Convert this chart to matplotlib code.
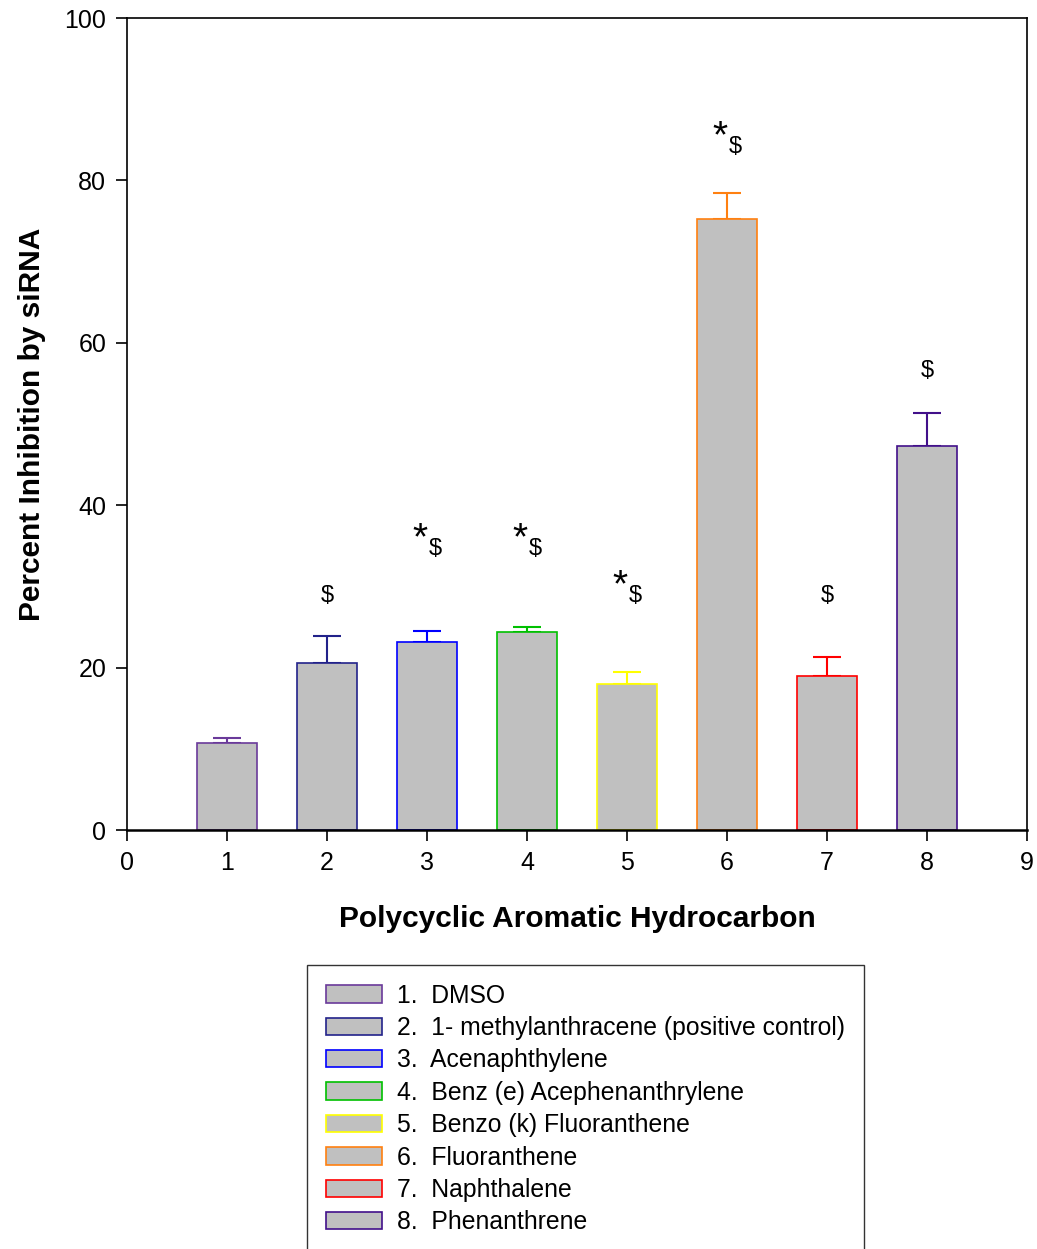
import matplotlib
matplotlib.use("Agg")
import matplotlib.pyplot as plt
from matplotlib.patches import Patch

plt.rcParams['font.family'] = ['Liberation Sans', 'DejaVu Sans']

positions = [1, 2, 3, 4, 5, 6, 7, 8]
values = [10.7, 20.6, 23.2, 24.4, 18.0, 75.2, 19.0, 47.3]
errors = [0.6, 3.3, 1.3, 0.6, 1.5, 3.2, 2.3, 4.1]
edge_colors = ['#6a3a9a', '#22228a', '#0000ff', '#00c000', '#ffff00', '#ff8010', '#ff0000', '#42108a']
names = ['DMSO', '1- methylanthracene (positive control)', 'Acenaphthylene',
         'Benz (e) Acephenanthrylene', 'Benzo (k) Fluoranthene', 'Fluoranthene',
         'Naphthalene', 'Phenanthrene']
# significance marks: star / dollar, and height of the $
stars = [False, False, True, True, True, True, False, False]
dollars = [False, True, True, True, True, True, True, True]
mark_y = [0, 28.8, 34.6, 34.6, 28.8, 84.1, 28.8, 56.5]

fig = plt.figure(figsize=(10.37, 12.49), dpi=100)
ax = fig.add_axes([127/1037, 1-830/1249, 900/1037, 812/1249])

for x, v, e, c in zip(positions, values, errors, edge_colors):
    ax.bar(x, v, width=0.6, color='#c0c0c0', edgecolor=c, linewidth=1.2, zorder=2)
    ax.errorbar(x, v, yerr=[[0], [e]], color=c, capsize=10, elinewidth=1.5,
                capthick=1.5, fmt='none', zorder=1)

for x, s, d, y in zip(positions, stars, dollars, mark_y):
    if s:
        ax.text(x - 0.07, y + 1.2, '*', ha='center', va='center', fontsize=28)
    if d:
        ax.text(x + 0.08 if s else x, y, '$', ha='center', va='center', fontsize=17)

ax.set_xlim(0, 9)
ax.set_ylim(0, 100)
ax.set_xticks(range(0, 10))
ax.set_yticks(range(0, 101, 20))
ax.tick_params(direction='out', length=8, width=1.2, labelsize=18, pad=7)
for sp in ax.spines.values():
    sp.set_linewidth(1.2)
ax.spines['bottom'].set_linewidth(1.8)
ax.set_xlabel('Polycyclic Aromatic Hydrocarbon', fontsize=21.5, fontweight='bold', labelpad=22)
ax.set_ylabel('Percent Inhibition by siRNA', fontsize=21.5, fontweight='bold', labelpad=13)

handles = [Patch(facecolor='#c0c0c0', edgecolor=c, linewidth=1.2) for c in edge_colors]
labels = ['%d.  %s' % (i, n) for i, n in zip(positions, names)]
leg = fig.legend(handles, labels, loc='upper left',
                 bbox_to_anchor=(307/1037, 1-965/1249), fontsize=17.8,
                 frameon=True, fancybox=False, edgecolor='black',
                 handlelength=2.3, handleheight=0.7, handletextpad=0.6,
                 labelspacing=0.34, borderpad=0.75, borderaxespad=0)
leg.get_frame().set_linewidth(1.0)

fig.savefig('out.png', dpi=100)
